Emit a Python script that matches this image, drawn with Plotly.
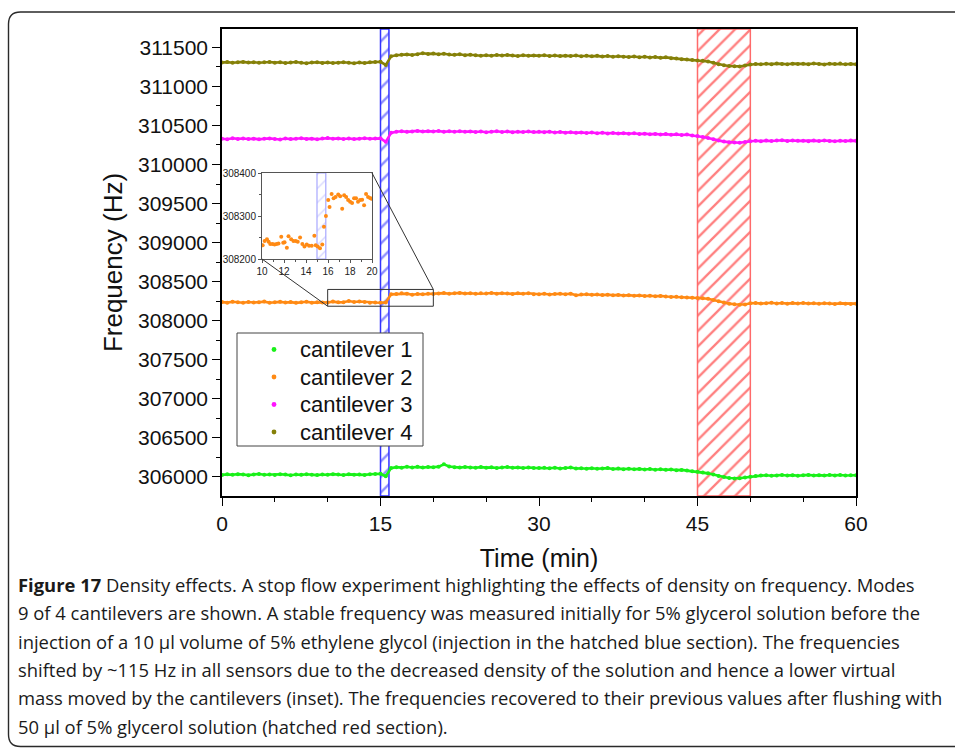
import plotly.graph_objects as go

# ---------------- data ----------------
time_min = [
    0, 0.5, 1, 1.5, 2, 2.5, 3, 3.5, 4, 4.5,
    5, 5.5, 6, 6.5, 7, 7.5, 8, 8.5, 9, 9.5,
    10, 10.5, 11, 11.5, 12, 12.5, 13, 13.5, 14, 14.5,
    15, 15.5, 16, 16.5, 17, 17.5, 18, 18.5, 19, 19.5,
    20, 20.5, 21, 21.5, 22, 22.5, 23, 23.5, 24, 24.5,
    25, 25.5, 26, 26.5, 27, 27.5, 28, 28.5, 29, 29.5,
    30, 30.5, 31, 31.5, 32, 32.5, 33, 33.5, 34, 34.5,
    35, 35.5, 36, 36.5, 37, 37.5, 38, 38.5, 39, 39.5,
    40, 40.5, 41, 41.5, 42, 42.5, 43, 43.5, 44, 44.5,
    45, 45.5, 46, 46.5, 47, 47.5, 48, 48.5, 49, 49.5,
    50, 50.5, 51, 51.5, 52, 52.5, 53, 53.5, 54, 54.5,
    55, 55.5, 56, 56.5, 57, 57.5, 58, 58.5, 59, 59.5,
    60,
]

cantilever_1 = [
    306025, 306032, 306028, 306035, 306030, 306022, 306031, 306036, 306027, 306030,
    306024, 306033, 306029, 306021, 306030, 306026, 306034, 306028, 306023, 306031,
    306027, 306035, 306029, 306024, 306032, 306028, 306030, 306025, 306033, 306036,
    306040, 306008, 306112, 306124, 306118, 306129, 306121, 306128, 306119, 306126,
    306123, 306131, 306160, 306133, 306124, 306119, 306127, 306121, 306116, 306125,
    306118, 306122, 306114, 306120, 306126, 306117, 306121, 306113, 306119, 306115,
    306112, 306118, 306110, 306116, 306108, 306113, 306119, 306107, 306111, 306105,
    306110, 306103, 306108, 306112, 306101, 306106, 306099, 306104, 306098, 306102,
    306095, 306100, 306092, 306097, 306090, 306094, 306086, 306089, 306080, 306072,
    306064, 306056, 306045, 306030, 306012, 305998, 305986, 305980, 305983, 305991,
    306002, 306012, 306016, 306021, 306014, 306019, 306024, 306017, 306022, 306015,
    306020, 306025, 306018, 306022, 306016, 306023, 306019, 306024, 306017, 306021,
    306020,
]

cantilever_2 = [
    308238, 308231, 308242, 308235, 308229, 308240, 308233, 308237, 308244, 308230,
    308236, 308241, 308232, 308238, 308228, 308235, 308243, 308231, 308237, 308234,
    308232, 308244, 308235, 308236, 308252, 308239, 308246, 308240, 308231, 308232,
    308229, 308234, 308337, 308341, 308350, 308346, 308333, 308341, 308338, 308344,
    308342, 308348, 308353, 308345, 308350, 308356, 308347, 308352, 308344, 308351,
    308349, 308355, 308346, 308352, 308348, 308343, 308350, 308345, 308351, 308340,
    308338, 308344, 308336, 308341, 308345, 308339, 308346, 308326, 308334, 308338,
    308331, 308336, 308328, 308333, 308325, 308330, 308322, 308327, 308319, 308324,
    308316, 308320, 308312, 308317, 308309, 308304, 308308, 308300, 308296, 308293,
    308290, 308288, 308280, 308266, 308248, 308232, 308218, 308210, 308205, 308208,
    308222, 308226, 308219, 308224, 308230, 308221, 308227, 308218, 308225, 308220,
    308226, 308219, 308223, 308217, 308224, 308220, 308215, 308222, 308218, 308214,
    308218,
]

cantilever_3 = [
    310330, 310324, 310335, 310328, 310333, 310326, 310331, 310322, 310329, 310334,
    310327, 310320, 310332, 310325, 310330, 310336, 310328, 310331, 310324, 310333,
    310338, 310329, 310334, 310327, 310332, 310325, 310331, 310336, 310329, 310333,
    310335, 310290, 310405, 310420, 310426, 310418, 310424, 310430, 310421, 310427,
    310423, 310429, 310418, 310425, 310420, 310426, 310419, 310424, 310416, 310422,
    310413, 310419, 310425, 310417, 310422, 310414, 310420, 310416, 310423, 310415,
    310418, 310412, 310419, 310410, 310416, 310408, 310413, 310405, 310411, 310404,
    310409, 310401, 310406, 310398, 310404, 310396, 310401, 310393, 310399, 310391,
    310395, 310388, 310392, 310385, 310389, 310381, 310386, 310378, 310383, 310372,
    310366, 310352, 310340, 310322, 310306, 310293, 310286, 310281, 310279, 310287,
    310298, 310304, 310299, 310306, 310301, 310307, 310310, 310302, 310308, 310303,
    310305, 310299, 310306, 310301, 310308, 310302, 310297, 310304, 310300, 310306,
    310303,
]

cantilever_4 = [
    311306, 311311, 311303, 311309, 311314, 311305, 311310, 311302, 311308, 311313,
    311304, 311309, 311300, 311307, 311312, 311303, 311296, 311305, 311310, 311301,
    311306, 311299, 311304, 311310, 311302, 311297, 311305, 311300, 311308, 311312,
    311315, 311275, 311385, 311398, 311405, 311410, 311402, 311412, 311425, 311416,
    311420, 311412, 311418, 311409, 311404, 311411, 311400, 311406, 311398, 311392,
    311399, 311393, 311401, 311395, 311402, 311396, 311390, 311398, 311392, 311397,
    311393, 311399, 311390, 311396, 311388, 311394, 311390, 311396, 311387, 311393,
    311385, 311391, 311382, 311389, 311379, 311386, 311381, 311376, 311383, 311374,
    311380, 311371, 311376, 311366, 311372, 311360, 311356, 311349, 311344, 311338,
    311333, 311330, 311318, 311302, 311285, 311270, 311262, 311258, 311256, 311268,
    311280, 311287, 311283, 311290, 311285, 311292, 311288, 311284, 311291, 311286,
    311290, 311285, 311293, 311287, 311282, 311289, 311286, 311292, 311284, 311288,
    311284,
]

inset_time = [
    10.06, 10.24, 10.45, 10.60, 10.75, 10.96, 11.14, 11.33, 11.50, 11.75,
    11.93, 12.05, 12.26, 12.41, 12.65, 12.86, 13.07, 13.25, 13.46, 13.67,
    13.86, 14.07, 14.28, 14.52, 14.76, 14.88, 15.06, 15.27, 15.48, 15.63,
    15.81, 16.02, 16.14, 16.33, 16.51, 16.69, 16.93, 17.11, 17.29, 17.47,
    17.65, 17.83, 18.01, 18.19, 18.37, 18.55, 18.73, 18.92, 19.10, 19.28,
    19.46, 19.64, 19.82, 19.95,
]
inset_freq = [
    308232, 308242, 308246, 308240, 308235, 308235, 308234, 308235, 308236, 308252,
    308238, 308239, 308226, 308253, 308246, 308242, 308242, 308240, 308250, 308235,
    308229, 308234, 308231, 308231, 308254, 308232, 308229, 308225, 308234, 308275,
    308300, 308337, 308321, 308351, 308341, 308344, 308350, 308346, 308317, 308348,
    308344, 308337, 308333, 308330, 308341, 308341, 308333, 308337, 308338, 308325,
    308351, 308344, 308342, 308340,
]

series_names = ["cantilever 1", "cantilever 2", "cantilever 3", "cantilever 4"]
series_values = [cantilever_1, cantilever_2, cantilever_3, cantilever_4]
series_colors = ["#19f019", "#ff8a14", "#ff14ff", "#858008"]

injection_window = [15, 15.8]      # hatched blue section (min)
flush_window = [45, 50]            # hatched red section (min)
zoom_window_time = [10, 20]
zoom_window_freq = [308185, 308400]

x_ticks = [0, 15, 30, 45, 60]
y_ticks = [306000, 306500, 307000, 307500, 308000, 308500, 309000,
           309500, 310000, 310500, 311000, 311500]
inset_x_ticks = [10, 12, 14, 16, 18, 20]
inset_y_ticks = [308200, 308300, 308400]

caption_lines = [
    "<b>Figure 17</b> Density effects. A stop flow experiment highlighting the effects of density on frequency. Modes",
    "9 of 4 cantilevers are shown. A stable frequency was measured initially for 5% glycerol solution before the",
    "injection of a 10 µl volume of 5% ethylene glycol (injection in the hatched blue section). The frequencies",
    "shifted by ~115 Hz in all sensors due to the decreased density of the solution and hence a lower virtual",
    "mass moved by the cantilevers (inset). The frequencies recovered to their previous values after flushing with",
    "50 µl of 5% glycerol solution (hatched red section).",
]

# ---------------- layout geometry ----------------
W, H = 955, 749
ML, MR, MT, MB = 222, 99, 29, 253
PW, PH = W - ML - MR, H - MT - MB
X_RANGE = [0, 60]
Y_RANGE = [305755, 311735]
INSET_X_RANGE = [10, 20]
INSET_Y_RANGE = [308200, 308400]


def pxx(px):
    return (px - ML) / PW


def pxy(py):
    return (H - MB - py) / PH


def data_to_paper(t, f):
    return ((t - X_RANGE[0]) / (X_RANGE[1] - X_RANGE[0]),
            (f - Y_RANGE[0]) / (Y_RANGE[1] - Y_RANGE[0]))


INSET_DOM_X = [pxx(262), pxx(372)]
INSET_DOM_Y = [pxy(259), pxy(173)]

AX_FONT = "Liberation Sans, Arial, sans-serif"

fig = go.Figure()


def hatch_band(window, yr, line_color, hatch_color, xa, ya, size, width, solidity):
    xs = [window[0], window[0], window[1], window[1], window[0]]
    ys = [yr[0], yr[1], yr[1], yr[0], yr[0]]
    fig.add_trace(go.Scatter(
        x=xs, y=ys, xaxis=xa, yaxis=ya, mode="lines", fill="toself",
        fillcolor="rgba(255,255,255,0)",
        fillpattern=dict(shape="/", fgcolor=hatch_color,
                         bgcolor="rgba(255,255,255,0)", size=size, solidity=solidity),
        line=dict(color=line_color, width=width),
        hoverinfo="skip", showlegend=False))


# hatched regions in main plot
hatch_band(injection_window, Y_RANGE, "#3434ff", "#1c1cff", "x", "y", 11, 1.5, 0.22)
hatch_band(flush_window, Y_RANGE, "#ff6a6a", "#ff0000", "x", "y", 11, 1.5, 0.21)

# data series
for name, vals, col in zip(series_names, series_values, series_colors):
    fig.add_trace(go.Scatter(
        x=time_min, y=vals, mode="lines+markers", name=name,
        line=dict(color=col, width=2.6),
        marker=dict(color=col, size=4),
        showlegend=False))

# inset
hatch_band(injection_window, INSET_Y_RANGE, "#a8a8ff", "#b0b0ff", "x2", "y2", 10, 1.2, 0.15)
fig.add_trace(go.Scatter(
    x=inset_time, y=inset_freq, xaxis="x2", yaxis="y2", mode="markers",
    marker=dict(color="#ff8a14", size=4), showlegend=False))

# ---------------- shapes ----------------
shapes = []
# zoom rectangle on main axes
shapes.append(dict(type="rect", xref="x", yref="y",
                   x0=zoom_window_time[0], x1=zoom_window_time[1],
                   y0=zoom_window_freq[0], y1=zoom_window_freq[1],
                   line=dict(color="#333333", width=1), layer="above"))
# connector lines
zb_left_bottom = data_to_paper(zoom_window_time[0], zoom_window_freq[0])
zb_right_top = data_to_paper(zoom_window_time[1], zoom_window_freq[1])
shapes.append(dict(type="line", xref="paper", yref="paper",
                   x0=INSET_DOM_X[0], y0=INSET_DOM_Y[0],
                   x1=zb_left_bottom[0], y1=zb_left_bottom[1],
                   line=dict(color="#333333", width=1), layer="above"))
shapes.append(dict(type="line", xref="paper", yref="paper",
                   x0=INSET_DOM_X[1], y0=INSET_DOM_Y[1],
                   x1=zb_right_top[0], y1=zb_right_top[1],
                   line=dict(color="#333333", width=1), layer="above"))

# legend frame (drawn box, white, above data)
LEG_LEFT, LEG_RIGHT, LEG_TOP, LEG_BOTTOM = 237, 423, 333, 446
shapes.append(dict(type="rect", xref="paper", yref="paper",
                   x0=pxx(LEG_LEFT), x1=pxx(LEG_RIGHT), y0=pxy(LEG_BOTTOM), y1=pxy(LEG_TOP),
                   fillcolor="white", opacity=1, layer="above",
                   line=dict(color="#444444", width=1)))
leg_rows = [349.5, 377, 404.5, 432]
annotations = []
for name, col, ry in zip(series_names, series_colors, leg_rows):
    shapes.append(dict(type="circle", xref="paper", yref="paper",
                       x0=pxx(274 - 2.4), x1=pxx(274 + 2.4),
                       y0=pxy(ry + 2.4), y1=pxy(ry - 2.4),
                       fillcolor=col, line=dict(width=0), layer="above"))
    annotations.append(dict(
        text=name, xref="paper", yref="paper", x=pxx(298), y=pxy(ry),
        xanchor="left", yanchor="middle", showarrow=False,
        font=dict(family=AX_FONT, size=22, color="#111111")))


# rounded figure border
def rounded_path(x0, y0, x1, y1, r):
    P = lambda a, b: f"{pxx(a):.5f},{pxy(b):.5f}"
    return (f"M {P(x0 + r, y0)} L {P(x1 - r, y0)} Q {P(x1, y0)} {P(x1, y0 + r)} "
            f"L {P(x1, y1 - r)} Q {P(x1, y1)} {P(x1 - r, y1)} "
            f"L {P(x0 + r, y1)} Q {P(x0, y1)} {P(x0, y1 - r)} "
            f"L {P(x0, y0 + r)} Q {P(x0, y0)} {P(x0 + r, y0)} Z")


shapes.append(dict(type="path", xref="paper", yref="paper",
                   path=rounded_path(8.5, 12, 1000, 746.5, 12),
                   line=dict(color="#2a2a2a", width=1.4), layer="below"))

# ---------------- caption ----------------
line_y = [584, 612, 641, 669, 697, 726]
for txt, yy in zip(caption_lines, line_y):
    annotations.append(dict(
        text=txt, xref="paper", yref="paper", x=pxx(16), y=pxy(yy),
        xanchor="left", yanchor="middle", showarrow=False,
        font=dict(family="Open Sans, sans-serif", size=18.4, color="#1a1a1a")))

fig.update_layout(
    width=W, height=H,
    margin=dict(l=ML, r=MR, t=MT, b=MB, pad=0),
    paper_bgcolor="white", plot_bgcolor="white",
    shapes=shapes, annotations=annotations,
    showlegend=False,
    xaxis=dict(range=X_RANGE, tickvals=x_ticks, showgrid=False, zeroline=False,
               showline=True, linecolor="black", linewidth=1.5, mirror=True,
               ticks="outside", ticklen=8, tickwidth=1.3, tickcolor="black",
               minor=dict(dtick=5, ticks="outside", ticklen=4, tickwidth=1.2, tickcolor="black"),
               tickfont=dict(family=AX_FONT, size=21, color="#111111"),
               title=dict(text="Time (min)", standoff=16,
                          font=dict(family=AX_FONT, size=25, color="#111111"))),
    yaxis=dict(range=Y_RANGE, tickvals=y_ticks, tickformat="d",
               showgrid=False, zeroline=False,
               showline=True, linecolor="black", linewidth=1.5, mirror=True,
               ticks="outside", ticklen=8, tickwidth=1.3, tickcolor="black",
               minor=dict(dtick=250, tick0=306000, ticks="outside", ticklen=4,
                          tickwidth=1.2, tickcolor="black"),
               tickfont=dict(family=AX_FONT, size=21, color="#111111"),
               title=dict(text="Frequency (Hz)", standoff=8,
                          font=dict(family=AX_FONT, size=26, color="#111111"))),
    xaxis2=dict(domain=INSET_DOM_X, anchor="y2", range=INSET_X_RANGE,
                tickvals=inset_x_ticks, showgrid=False, zeroline=False,
                showline=True, linecolor="#555555", linewidth=1, mirror=True,
                ticks="outside", ticklen=3, tickcolor="#555555",
                minor=dict(dtick=1, ticks="outside", ticklen=2, tickcolor="#555555"),
                tickfont=dict(family=AX_FONT, size=10, color="#222222")),
    yaxis2=dict(domain=INSET_DOM_Y, anchor="x2", range=INSET_Y_RANGE,
                tickvals=inset_y_ticks, tickformat="d", showgrid=False, zeroline=False,
                showline=True, linecolor="#555555", linewidth=1, mirror=True,
                ticks="outside", ticklen=3, tickcolor="#555555",
                minor=dict(dtick=50, ticks="outside", ticklen=2, tickcolor="#555555"),
                tickfont=dict(family=AX_FONT, size=10, color="#222222")),
)

fig.write_html("out.html")
